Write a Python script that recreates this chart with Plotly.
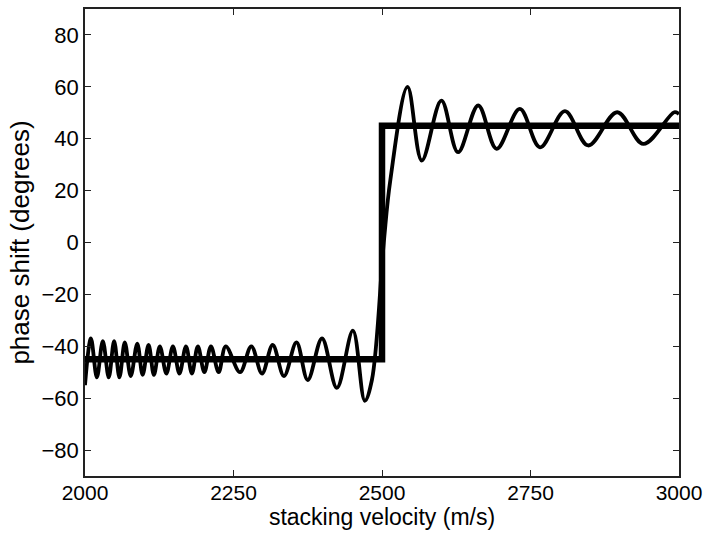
import plotly.graph_objects as go

# Step function (ideal phase shift)
step_x = [2000, 2500, 2500, 3000]
step_y = [-45, -45, 45, 45]

# Oscillating curve: extrema and key points
curve_x = [2000, 2010, 2020, 2030, 2040, 2049, 2058, 2067, 2077, 2088, 2097, 2107, 2116,
           2126, 2137, 2148, 2159, 2170, 2180, 2190, 2201, 2212, 2225, 2237, 2261,
           2280, 2298, 2316, 2335, 2356, 2375, 2399, 2424, 2451, 2471, 2483, 2503,
           2514, 2543, 2567, 2600, 2628, 2662, 2693, 2732, 2766, 2808, 2847, 2896,
           2940, 2992, 3000]
curve_y = [-55, -37, -52, -38, -52, -38, -52, -38.5, -51.5, -39, -51, -39.5, -51,
           -40, -50.5, -40, -50.5, -40, -50.5, -40, -50, -40, -50, -40, -50,
           -40, -50.5, -39.5, -51.5, -38.5, -53, -37, -56, -34, -61, -53, 0,
           24, 60, 31.6, 54.7, 34.8, 52.8, 36.1, 51.5, 36.7, 50.6, 37.4, 50.2,
           38.0, 50.2, 49.5]

x_ticks = [2000, 2250, 2500, 2750, 3000]
y_ticks = [-80, -60, -40, -20, 0, 20, 40, 60, 80]

fig = go.Figure()
fig.add_trace(go.Scatter(x=step_x, y=step_y, mode="lines",
                         line=dict(color="black", width=6.5), hoverinfo="skip"))
fig.add_trace(go.Scatter(x=curve_x, y=curve_y, mode="lines",
                         line=dict(color="black", width=3.8, shape="spline", smoothing=1.0),
                         hoverinfo="skip"))

font_family = "Liberation Sans, Arial, sans-serif"
fig.update_layout(
    width=708, height=533,
    margin=dict(l=85, r=29, t=9, b=57),
    paper_bgcolor="white", plot_bgcolor="white",
    showlegend=False,
    font=dict(family=font_family, color="black", size=22),
)
fig.update_xaxes(
    range=[2000, 3000], tickvals=x_ticks, ticktext=[str(v) for v in x_ticks],
    showgrid=False, zeroline=False,
    showline=True, linecolor="#222", linewidth=1.5, mirror="ticks",
    ticks="inside", ticklen=6, tickcolor="#222", tickwidth=1.2,
    tickfont=dict(size=21), ticklabelstandoff=-3,
    title=dict(text="stacking velocity (m/s)", font=dict(size=23), standoff=6),
    automargin=False,
)
fig.update_yaxes(
    range=[-90, 90], tickvals=y_ticks, ticktext=[("\u2212" + str(-v)) if v < 0 else str(v) for v in y_ticks],
    showgrid=False, zeroline=False,
    showline=True, linecolor="#222", linewidth=1.5, mirror="ticks",
    ticks="inside", ticklen=6, tickcolor="#222", tickwidth=1.2,
    tickfont=dict(size=22),
    title=dict(text="phase shift (degrees)", font=dict(size=26), standoff=4),
    automargin=False,
)

fig.write_html("out.html")
